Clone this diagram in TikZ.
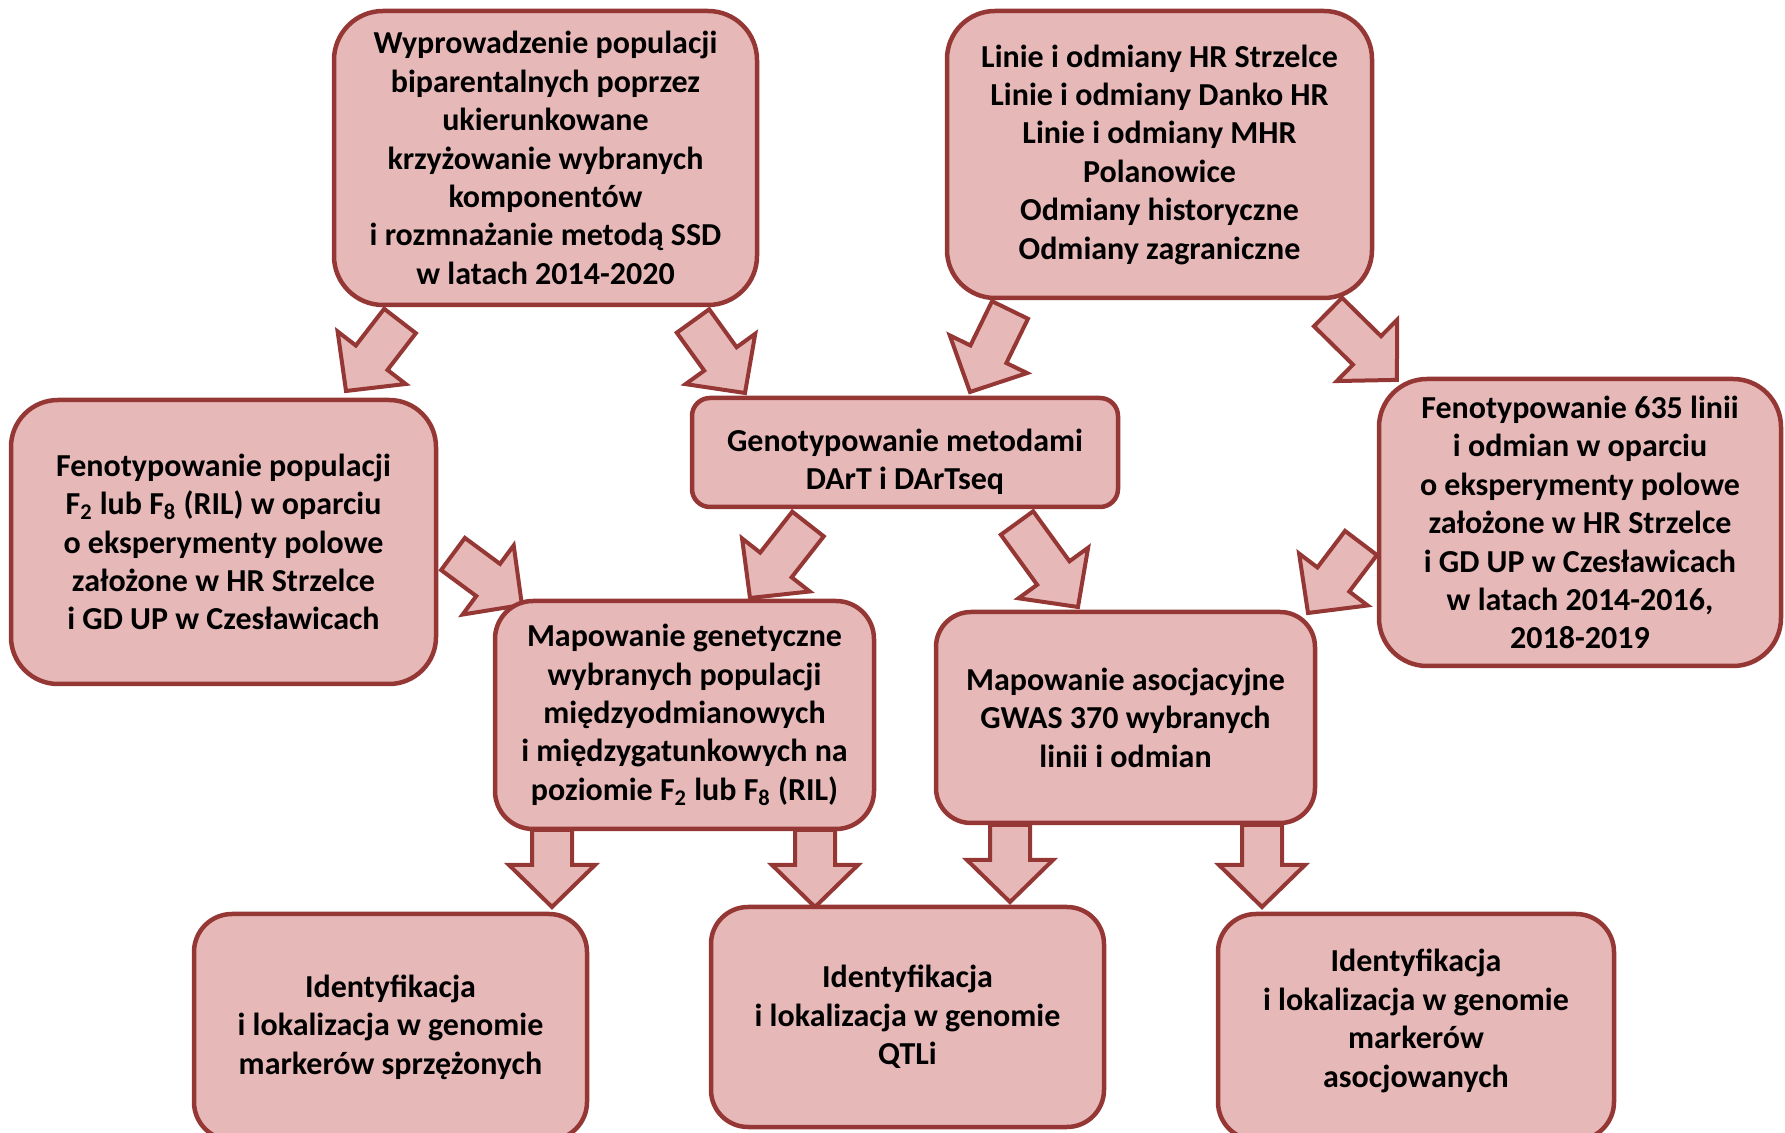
\documentclass[tikz,border=0pt]{standalone}
\usepackage{fontspec}
\setmainfont{Carlito}
\usetikzlibrary{calc}
\pgfdeclarelayer{background}
\pgfsetlayers{background,main}
\definecolor{boxfill}{HTML}{E6B8B7}
\definecolor{boxline}{HTML}{953735}
\tikzset{
  boxtext/.style={align=center, inner sep=0pt, font=\fontsize{16pt}{19.2pt}\selectfont\bfseries},
  mybox/.style n args={3}{draw=boxline, fill=boxfill, line width=2.25pt, boxtext,
    minimum width=#1*0.5pt, minimum height=#2*0.5pt, rounded corners=#3*0.5pt},
  blockarrow/.style={draw=boxline, fill=boxfill, line width=2pt, line join=miter}
}
\newcommand{\barrow}[2]{%
  \path (#1); \pgfgetlastxy{\baXa}{\baYa}%
  \path (#2); \pgfgetlastxy{\baXb}{\baYb}%
  \pgfmathsetmacro{\baAng}{atan2(\baYb-\baYa,\baXb-\baXa)}%
  \pgfmathsetmacro{\baLen}{veclen(\baXb-\baXa,\baYb-\baYa)}%
  \pgfmathsetmacro{\baNeck}{\baLen-21}%
  \draw[blockarrow, shift={(#1)}, rotate=\baAng] (0pt,-10pt) -- (\baNeck pt,-10pt) -- (\baNeck pt,-21.5pt) -- (\baLen pt,0pt) -- (\baNeck pt,21.5pt) -- (\baNeck pt,10pt) -- (0pt,10pt) -- cycle;
}
\begin{document}
\begin{tikzpicture}[x=0.5pt,y=-0.5pt]
\useasboundingbox (0,0) rectangle (1785,1133);

\node[mybox={423}{294}{49}] (A) at (545.5,158) {Wyprowadzenie populacji\\biparentalnych poprzez\\ukierunkowane\\krzyżowanie wybranych\\komponentów\\i rozmnażanie metodą SSD\\w latach 2014-2020};
\node[mybox={425}{287}{48}] (B) at (1159.5,154.5) {Linie i odmiany HR Strzelce\\Linie i odmiany Danko HR\\Linie i odmiany MHR\\Polanowice\\Odmiany historyczne\\Odmiany zagraniczne};
\node[mybox={425}{284}{47}] (C) at (223.5,542) {Fenotypowanie populacji\\F\textsubscript{2} lub F\textsubscript{8} (RIL) w oparciu\\o eksperymenty polowe\\założone w HR Strzelce\\i GD UP w Czesławicach};
\node[mybox={426}{109}{18}, label={[boxtext, yshift=-4.5pt]center:Genotypowanie metodami\\DArT i DArTseq}] (D) at (905,452.5) {};
\node[mybox={402}{287}{48}] (E) at (1580,522.5) {Fenotypowanie 635 linii\\i odmian w oparciu\\o eksperymenty polowe\\założone w HR Strzelce\\i GD UP w Czesławicach\\w latach 2014-2016,\\2018-2019};
\node[mybox={379}{228}{38}] (F) at (684.5,715) {Mapowanie genetyczne\\wybranych populacji\\międzyodmianowych\\i międzygatunkowych na\\poziomie F\textsubscript{2} lub F\textsubscript{8} (RIL)};
\node[mybox={379}{211}{35}] (G) at (1125.5,717.5) {Mapowanie asocjacyjne\\GWAS 370 wybranych\\linii i odmian};
\node[mybox={393}{226}{38}] (H) at (390.5,1027) {Identyfikacja\\i lokalizacja w genomie\\markerów sprzężonych};
\node[mybox={393}{220}{37}] (I) at (907.5,1017) {Identyfikacja\\i lokalizacja w genomie\\QTLi};
\node[mybox={396}{226}{38}, label={[boxtext, yshift=3pt]center:Identyfikacja\\i lokalizacja w genomie\\markerów\\asocjowanych}] (J) at (1416,1027) {};

\coordinate (a1s) at (400,321);  \coordinate (a1e) at (346,391);
\coordinate (a2s) at (693,321);  \coordinate (a2e) at (745,393);
\coordinate (a3s) at (1010,310); \coordinate (a3e) at (970,392);
\coordinate (a4s) at (1328,312); \coordinate (a4e) at (1397,380);
\coordinate (a5s) at (453,554);  \coordinate (a5e) at (522,605);
\coordinate (a6s) at (808,524);  \coordinate (a6e) at (750,598);
\coordinate (a7s) at (1017,523); \coordinate (a7e) at (1078,607);
\coordinate (a8s) at (1361,543); \coordinate (a8e) at (1308,613);
\coordinate (a9s) at (552,830);  \coordinate (a9e) at (552,907);
\coordinate (a10s) at (815,830); \coordinate (a10e) at (815,907);
\coordinate (a11s) at (1010,825); \coordinate (a11e) at (1010,902);
\coordinate (a12s) at (1262,825); \coordinate (a12e) at (1262,907);

\begin{pgfonlayer}{background}
\barrow{a1s}{a1e}
\barrow{a2s}{a2e}
\barrow{a3s}{a3e}
\barrow{a4s}{a4e}
\barrow{a5s}{a5e}
\barrow{a6s}{a6e}
\barrow{a7s}{a7e}
\barrow{a8s}{a8e}
\barrow{a9s}{a9e}
\barrow{a10s}{a10e}
\barrow{a11s}{a11e}
\barrow{a12s}{a12e}
\end{pgfonlayer}
\end{tikzpicture}
\end{document}
